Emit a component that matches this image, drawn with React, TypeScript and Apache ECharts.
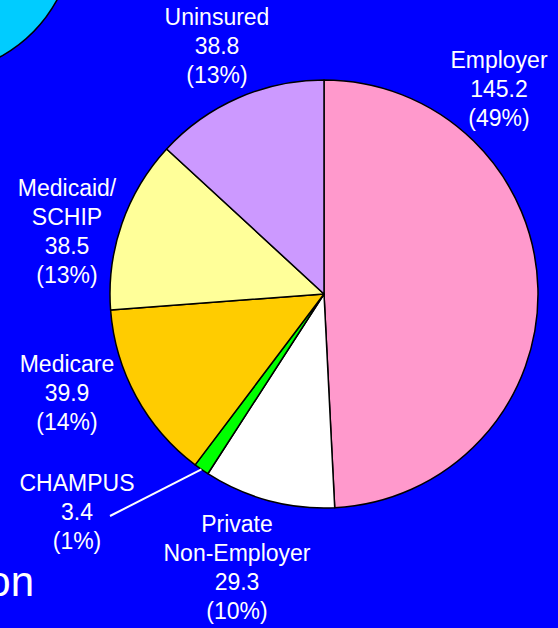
import React, { useEffect, useRef } from "react";
import * as echarts from "echarts";

const categories = ["Employer", "Private\nNon-Employer", "CHAMPUS", "Medicare", "Medicaid/\nSCHIP", "Uninsured"];
const values = [145.2, 29.3, 3.4, 39.9, 38.5, 38.8];
const colors = ["#FF99CC", "#FFFFFF", "#00FF00", "#FFCC00", "#FFFF99", "#CC99FF"];

// label anchor positions (layout only)
const labelPos: [number, number][] = [
  [499, 89],
  [237, 567],
  [77, 512],
  [67, 393],
  [67, 231],
  [217, 46],
];

const CX = 324;
const CY = 294;
const R = 214;

export default function App() {
  const ref = useRef<HTMLDivElement>(null);
  useEffect(() => {
    document.body.style.margin = "0";
    const chart = echarts.init(ref.current!, null, { renderer: "svg" });
    const total = values.reduce((a, b) => a + b, 0);
    // leader line for CHAMPUS from slice edge
    const before = values.slice(0, 2).reduce((a, b) => a + b, 0);
    const midFrac = (before + values[2] / 2) / total;
    const ang = midFrac * Math.PI * 2;
    const sx = CX + R * Math.sin(ang);
    const sy = CY - R * Math.cos(ang);

    chart.setOption({
      animation: false,
      backgroundColor: "#0000FF",
      graphic: [
        {
          type: "circle",
          shape: { cx: -70, cy: -70, r: 145 },
          style: { fill: "#00CCFF", stroke: "#000", lineWidth: 1.5 },
          z: -1,
        },
        {
          type: "text",
          x: 34,
          y: 602,
          style: {
            text: "on",
            fill: "#FFFFFF",
            font: "42px 'Liberation Sans', Arial, sans-serif",
            align: "right",
            verticalAlign: "bottom",
          },
        },
        {
          type: "line",
          shape: { x1: sx, y1: sy, x2: 110, y2: 516 },
          style: { stroke: "#FFFFFF", lineWidth: 2 },
          z: 10,
        },
      ],
      series: [
        {
          type: "pie",
          center: [CX, CY],
          radius: [0, R],
          startAngle: 90,
          clockwise: true,
          percentPrecision: 0,
          avoidLabelOverlap: false,
          itemStyle: { borderColor: "#000000", borderWidth: 1.5 },
          emphasis: { disabled: true },
          label: {
            show: true,
            position: "outside",
            formatter: "{b}\n{c}\n({d}%)",
            color: "#FFFFFF",
            fontFamily: "'Liberation Sans', Arial, sans-serif",
            fontSize: 23,
            lineHeight: 29,
            align: "center",
          },
          labelLine: { show: false },
          labelLayout: (p: any) => ({
            x: labelPos[p.dataIndex][0],
            y: labelPos[p.dataIndex][1],
            align: "center",
            verticalAlign: "middle",
          }),
          data: categories.map((name, i) => ({
            name,
            value: values[i],
            itemStyle: { color: colors[i] },
          })),
        },
      ],
    });
    return () => chart.dispose();
  }, []);
  return <div ref={ref} style={{ width: 558, height: 628, position: "absolute", left: 0, top: 0 }} />;
}
